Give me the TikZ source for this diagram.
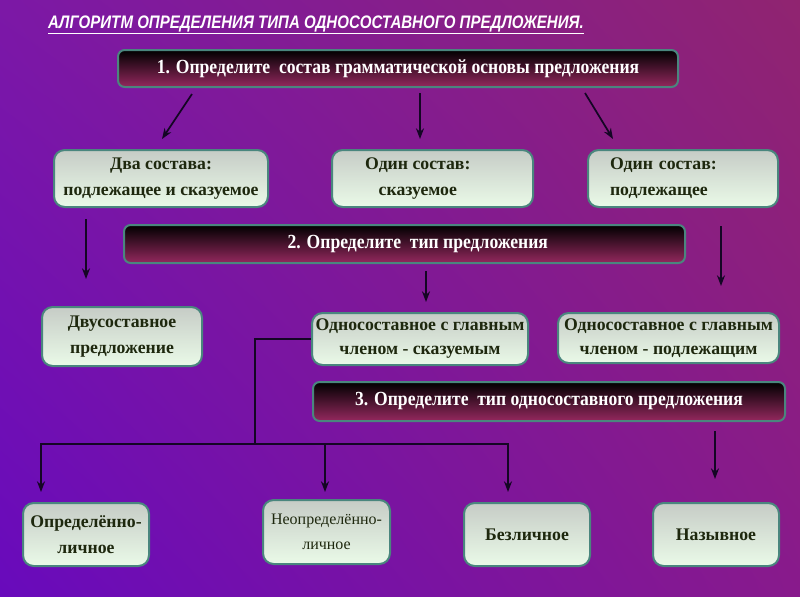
\documentclass[tikz,border=0pt]{standalone}
\usepackage{fontspec}
\setmainfont{Liberation Serif}
\newfontfamily\titlefont[FakeStretch=0.83]{Liberation Sans}
\newfontfamily\headfont[FakeStretch=0.88]{Liberation Serif}
\usetikzlibrary{arrows.meta,calc,shadings}

\definecolor{bgA}{RGB}{124,24,166}
\definecolor{bgB}{RGB}{144,36,112}
\definecolor{bgC}{RGB}{104,10,188}
\definecolor{bgD}{RGB}{136,26,140}
\definecolor{headbot}{RGB}{148,40,94}
\definecolor{edge}{RGB}{74,134,126}
\definecolor{boxtop}{RGB}{198,204,198}
\definecolor{boxbot}{RGB}{234,250,232}
\definecolor{ink}{RGB}{30,40,14}
\definecolor{wirec}{RGB}{20,6,36}

\tikzset{every picture/.style={line width=0.75pt}}
\tikzset{
  headbox/.style={draw=edge, line width=1.5pt, rounded corners=5pt,
    top color=black, bottom color=headbot, text=white, align=center, inner sep=0pt,
    font=\headfont\bfseries\fontsize{15}{17}\selectfont},
  leafbox/.style={draw=edge, line width=1.5pt, rounded corners=8pt,
    top color=boxtop, bottom color=boxbot, text=ink, align=center, inner sep=0pt,
    font=\bfseries\fontsize{13.3}{19.5}\selectfont},
  wire/.style={draw=wirec, line width=1.3pt},
  arr/.style={wire, -{Stealth[length=8pt,width=6pt]}},
}

\begin{document}
\begin{tikzpicture}[x=0.75pt,y=0.75pt,yscale=-1,xscale=1]
\useasboundingbox (0,0) rectangle (800,600);
\shade[upper left=bgA, upper right=bgB, lower left=bgC, lower right=bgD] (0,0) rectangle (800,600);
\fill[white] (0,597) rectangle (800,600);

% Title
\node (title) at (316,25) {\titlefont\bfseries\itshape\fontsize{13.6}{15}\selectfont\color{white}\underline{АЛГОРИТМ ОПРЕДЕЛЕНИЯ ТИПА ОДНОСОСТАВНОГО ПРЕДЛОЖЕНИЯ.}};

% Step boxes
\node[headbox, minimum width=420pt, minimum height=27.75pt] (h1) at (398,68.5) {1. Определите~ состав грамматической основы предложения};
\node[headbox, minimum width=420.75pt, minimum height=28.5pt] (h2) at (404.5,244) {\hspace*{20pt}2. Определите~ тип предложения};
\node[headbox, minimum width=354pt, minimum height=29.25pt] (h3) at (549,401.5) {3. Определите~ тип односоставного предложения};

% Text Node
\node[leafbox, minimum width=160.5pt, minimum height=42.75pt] (dva) at (161,178.5) {Два состава:\\подлежащее и сказуемое};
% Text Node
\node[leafbox, minimum width=150.75pt, minimum height=42.75pt] (ska) at (432.5,178.5) {Один состав:\hspace*{22pt}\\сказуемое\hspace*{22pt}};
% Text Node
\node[leafbox, minimum width=142.5pt, minimum height=42.75pt, text width=109.5pt, align=left] (pod) at (683,178.5) {Один состав:\\подлежащее};
% Text Node
\node[leafbox, minimum width=120pt, minimum height=44.25pt, font=\bfseries\fontsize{13.3}{20}\selectfont] (dvus) at (122,336.5) {Двусоставное\\предложение};
% Text Node
\node[leafbox, minimum width=162pt, minimum height=39pt, font=\bfseries\fontsize{13.3}{18}\selectfont] (s1) at (420,339) {Односоставное с главным\\членом - сказуемым};
% Text Node
\node[leafbox, minimum width=165.75pt, minimum height=37.5pt, font=\bfseries\fontsize{13.3}{18}\selectfont] (p1) at (668.5,338) {Односоставное с главным\\членом - подлежащим};
% Text Node
\node[leafbox, minimum width=94.5pt, minimum height=47.25pt] (opl) at (86,534.5) {Определённо-\\личное};
% Text Node
\node[leafbox, minimum width=95.25pt, minimum height=48pt, font=\fontsize{12}{18.75}\selectfont] (neo) at (326.5,532) {Неопределённо-\\личное};
% Text Node
\node[leafbox, minimum width=94.5pt, minimum height=47.25pt] (bez) at (527,534.5) {Безличное};
% Text Node
\node[leafbox, minimum width=94.5pt, minimum height=47.25pt] (naz) at (716,534.5) {Назывное};

% Connection
\draw[arr] ($(h1.south west)+(75,6)$) -- ($(dva.north)+(1,-10)$);
\draw[arr] ($(h1.south)+(22,5)$) -- ($(ska.north)+(-12.5,-10)$);
\draw[arr] ($(h1.south)+(187,5)$) -- ($(pod.north)+(-70,-10)$);
% Connection
\draw[arr] ($(dva.south)+(-75,11)$) -- ($(dvus.north)+(-36,-27)$);
\draw[arr] ($(h2.south)+(21.5,7)$) -- ($(s1.north)+(6,-10)$);
\draw[arr] ($(pod.south)+(38,18)$) -- ($(p1.north)+(52.5,-26)$);
\draw[arr] ($(h3.south)+(166,9)$) -- ($(naz.north)+(-1,-23)$);
% Connection
\coordinate (fork) at ($(s1.west)+(-56,105)$);
\draw[wire] (s1.west) -| (fork);
\draw[arr] (fork) -| ($(opl.north)+(-45,-10)$);
\draw[arr] (fork) -| ($(neo.north)+(-1.5,-7)$);
\draw[arr] (fork) -| ($(bez.north)+(-19,-10)$);

\end{tikzpicture}
\end{document}
